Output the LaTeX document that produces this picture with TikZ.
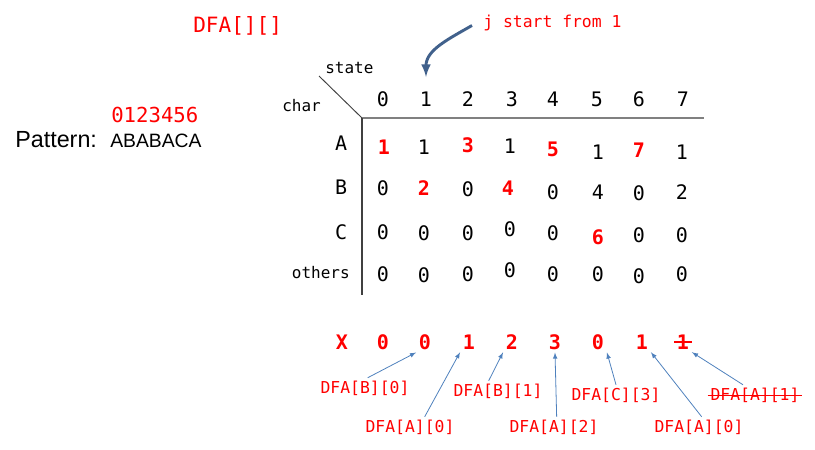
\documentclass[tikz,border=0pt]{standalone}
\usepackage{fontspec}
\setmainfont{Liberation Sans}
\setmonofont{DejaVu Sans Mono}

\begin{document}
\begin{tikzpicture}[x=0.75pt, y=-0.75pt,
	cell/.style={font=\ttfamily\fontsize{15}{17}\selectfont, inner sep=2pt},
	hot/.style={cell, text=red, font=\ttfamily\bfseries\fontsize{15}{17}\selectfont},
	head/.style={font=\ttfamily\fontsize{12}{14}\selectfont, inner sep=0pt},
	lab/.style={font=\ttfamily\fontsize{12.3}{14}\selectfont, text=red, inner sep=2pt},
	ptr/.style={draw=ptrblue, -latex, line width=0.6pt}]
\definecolor{ptrblue}{HTML}{4F81BD}
\definecolor{bendblue}{HTML}{41618C}
\useasboundingbox (0,0) rectangle (815,450);
% titles
\node[anchor=base west, inner sep=0pt, text=red, font=\ttfamily\fontsize{15.8}{18}\selectfont] (dfa) at (193,32) {DFA[][]};
\node[anchor=base west, inner sep=0pt, text=red, font=\ttfamily\fontsize{12.3}{14}\selectfont] (note) at (483,27) {j start from 1};
\node[anchor=base west, inner sep=0pt, font=\fontsize{17.5}{20}\selectfont] (pat) at (15,147) {Pattern:};
\node[anchor=base west, inner sep=0pt, font=\fontsize{14.5}{16}\selectfont] (str) at (110,147) {ABABACA};
\node[anchor=base west, inner sep=0pt, text=red, font=\ttfamily\fontsize{15.5}{18}\selectfont] (idx) at (111,122) {0123456};
% table frame
\node[anchor=base west, head] (state) at (325,73) {state};
\node[anchor=base west, head] (char) at (282,111) {char};
\coordinate (corner) at (362,118);
\coordinate (diag) at (319,76);
\coordinate (right) at (704,118);
\coordinate (down) at (362,295);
\draw[black!75, line width=0.7pt] (diag) -- (corner);
\draw[black!50, line width=1.5pt] (corner) -- (right);
\draw[black!75, line width=0.8pt] (corner) -- (down);
% column heads
\node[cell] (h0) at (383,99) {0};
\node[cell] (h1) at (426,99) {1};
\node[cell] (h2) at (468,99) {2};
\node[cell] (h3) at (512,99) {3};
\node[cell] (h4) at (553,99) {4};
\node[cell] (h5) at (597,99) {5};
\node[cell] (h6) at (639,99) {6};
\node[cell] (h7) at (683,99) {7};
% row heads
\node[cell, anchor=east] (ra) at (350,143) {A};
\node[cell, anchor=east] (rb) at (350,187) {B};
\node[cell, anchor=east] (rc) at (350,232) {C};
\node[head, anchor=east] (ro) at (350,273) {others};
% row A
\node[hot] (a0) at (384,147) {1};
\node[cell] (a1) at (424,147) {1};
\node[hot] (a2) at (468,145) {3};
\node[cell] (a3) at (510,146) {1};
\node[hot] (a4) at (553,149) {5};
\node[cell] (a5) at (598,152) {1};
\node[hot] (a6) at (639,150) {7};
\node[cell] (a7) at (682,152) {1};
% row B
\node[cell] (b0) at (383,188) {0};
\node[hot] (b1) at (424,188) {2};
\node[cell] (b2) at (468,189) {0};
\node[hot] (b3) at (508,188) {4};
\node[cell] (b4) at (553,192) {0};
\node[cell] (b5) at (598,192) {4};
\node[cell] (b6) at (639,193) {0};
\node[cell] (b7) at (682,192) {2};
% row C
\node[cell] (c0) at (383,232) {0};
\node[cell] (c1) at (424,233) {0};
\node[cell] (c2) at (468,233) {0};
\node[cell] (c3) at (510,229) {0};
\node[cell] (c4) at (553,233) {0};
\node[hot] (c5) at (598,237) {6};
\node[cell] (c6) at (639,235) {0};
\node[cell] (c7) at (682,235) {0};
% row others
\node[cell] (o0) at (383,274) {0};
\node[cell] (o1) at (424,275) {0};
\node[cell] (o2) at (468,274) {0};
\node[cell] (o3) at (510,270) {0};
\node[cell] (o4) at (553,274) {0};
\node[cell] (o5) at (598,274) {0};
\node[cell] (o6) at (639,276) {0};
\node[cell] (o7) at (682,274) {0};
% bent arrow
\coordinate (tip) at (426,77);
\draw[draw=bendblue, line width=2.2pt, -latex] (note.west) ++(-11,3) to[out=210,in=90] (tip);
% X row
\node[hot] (xx) at (342,342) {X};
\node[hot] (x0) at (383,342) {0};
\node[hot] (x1) at (425,342) {0};
\node[hot] (x2) at (469,342) {1};
\node[hot] (x3) at (512,342) {2};
\node[hot] (x4) at (555,342) {3};
\node[hot] (x5) at (598,342) {0};
\node[hot] (x6) at (642,342) {1};
\node[hot] (x7) at (683,342) {1};
\draw[red, line width=1pt] (x7.west) -- (x7.east);
% lookups
\node[lab] (l1) at (365,388) {DFA[B][0]};
\node[lab] (l2) at (410,427) {DFA[A][0]};
\node[lab] (l3) at (498,391) {DFA[B][1]};
\node[lab] (l4) at (554,427) {DFA[A][2]};
\node[lab] (l5) at (616,395) {DFA[C][3]};
\node[lab] (l6) at (699,427) {DFA[A][0]};
\node[lab] (l7) at (755,395) {DFA[A][1]};
\draw[red, line width=0.6pt] (l7.west) -- (l7.east);
\draw[ptr] ([xshift=2pt]l1.north) to (x1.south west);
\draw[ptr] ([xshift=11pt]l2.north) to (x2.south west);
\draw[ptr] ([xshift=-7pt]l3.north) to (x3.south west);
\draw[ptr] ([xshift=2pt]l4.north) to (x4.south);
\draw[ptr] (l5.north) to (x5.south east);
\draw[ptr] ([xshift=2pt]l6.north) to (x6.south east);
\draw[ptr] ([xshift=-9pt]l7.north) to (x7.south east);
\end{tikzpicture}
\end{document}
